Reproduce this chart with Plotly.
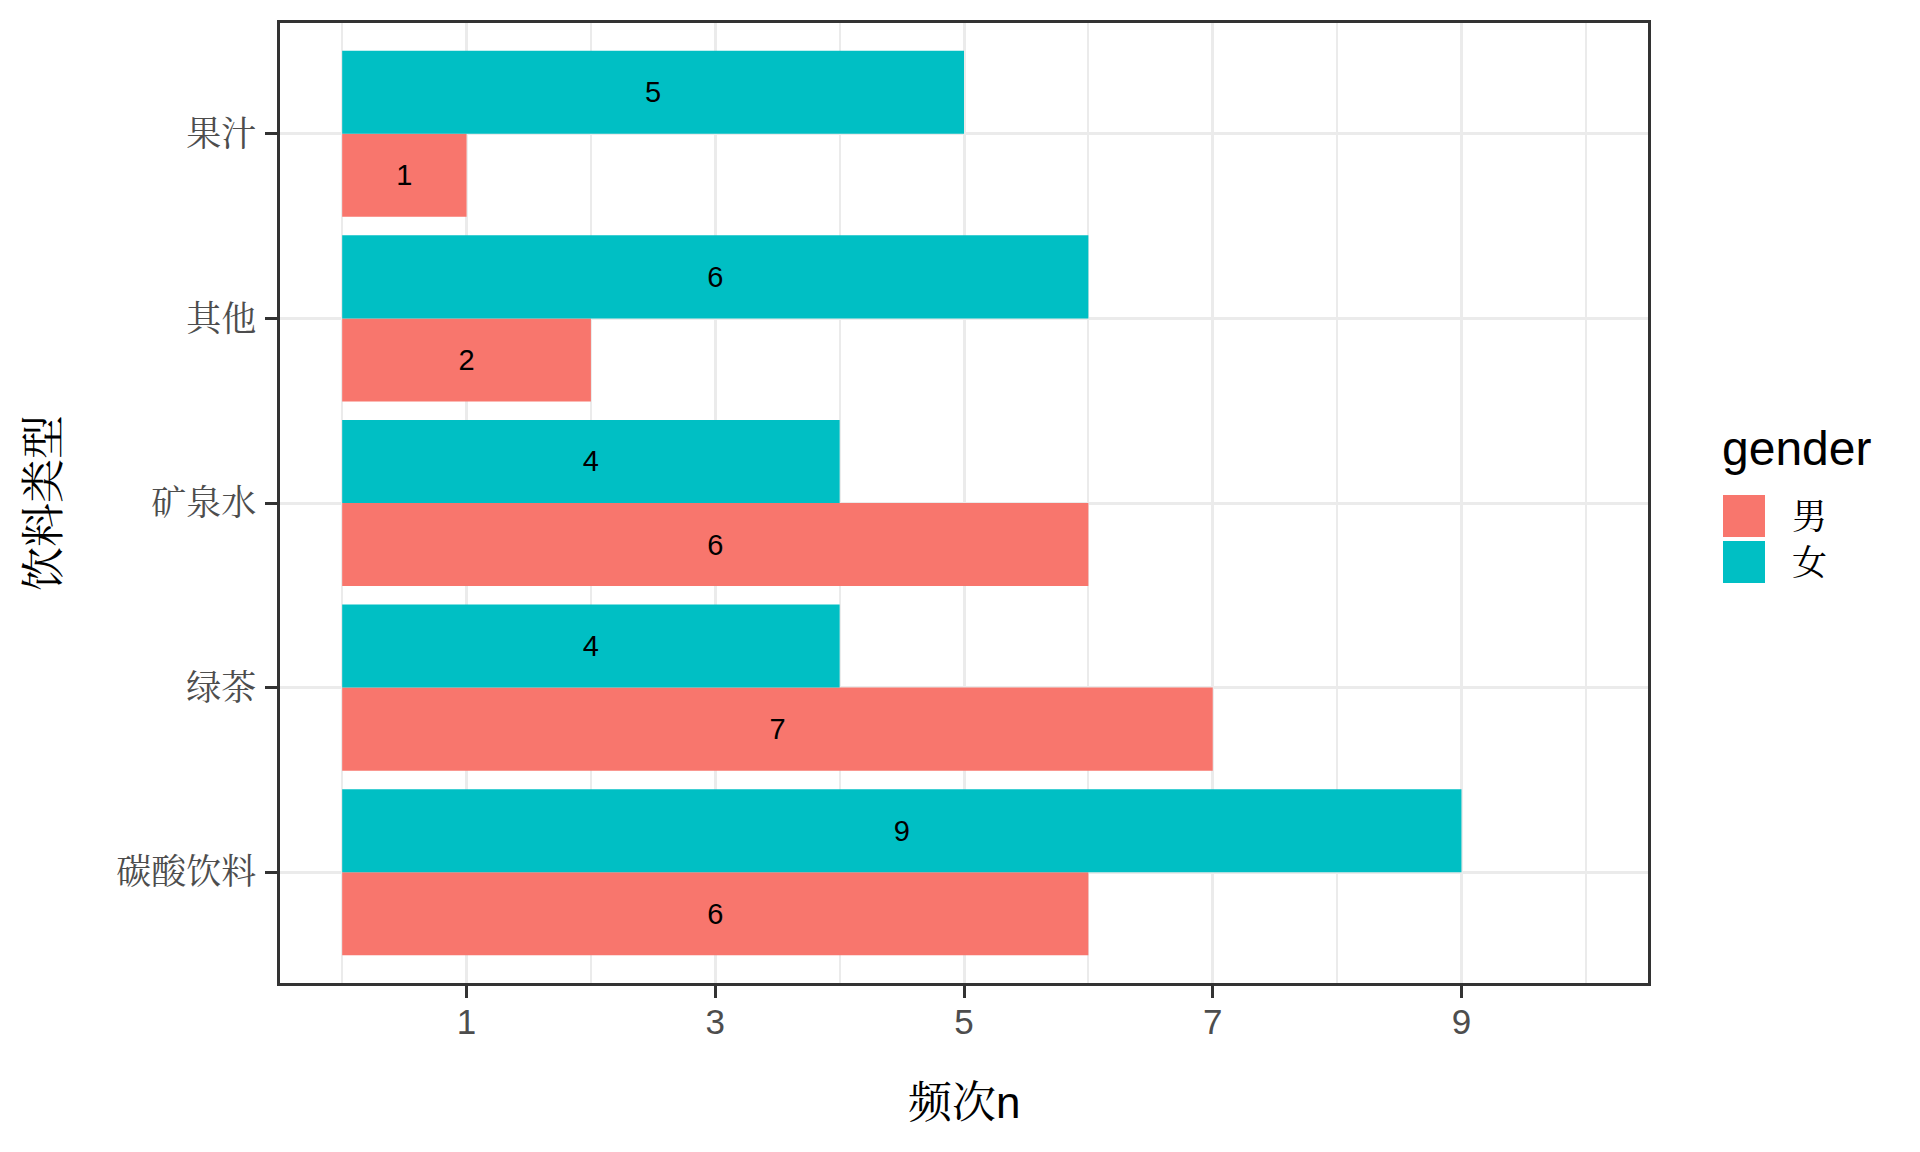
import plotly.graph_objects as go

categories = ["碳酸饮料", "绿茶", "矿泉水", "其他", "果汁"]
male_counts = [6, 7, 6, 2, 1]
female_counts = [9, 4, 4, 6, 5]
genders = ["男", "女"]
colors = ["#F8766D", "#00BFC4"]
x_ticks = [1, 3, 5, 7, 9]

FONT = "Liberation Sans, Noto Serif CJK SC, Noto Sans CJK SC, sans-serif"

W, H = 1920, 1152
OFF = 8  # page body margin
L, R, T, B = 280 - OFF, 1648 - OFF, 23 - OFF, 983 - OFF  # panel pixel box (figure coords)

fig = go.Figure()
for name, vals, col in zip(genders, [male_counts, female_counts], colors):
    fig.add_trace(go.Bar(
        y=categories, x=vals, orientation="h", name=name,
        marker=dict(color=col, line=dict(width=0)),
        text=[str(v) for v in vals], textposition="inside",
        insidetextanchor="middle",
        insidetextfont=dict(color="black", size=29, family=FONT),
        constraintext="none", showlegend=False,
    ))

def px_x(p):
    return (p - OFF - L) / (R - L)

def px_y(p):
    return (B - (p - OFF)) / (B - T)

shapes = []
annotations = []
# legend
annotations.append(dict(text="gender", x=px_x(1720), y=px_y(448), xref="paper", yref="paper",
                        xanchor="left", yanchor="middle", showarrow=False,
                        font=dict(size=48, color="black", family=FONT)))
for i, (name, col) in enumerate(zip(genders, colors)):
    y0 = 495 + i * 46
    y1 = y0 + 42
    shapes.append(dict(type="rect", xref="paper", yref="paper",
                       x0=px_x(1723), x1=px_x(1765), y0=px_y(y1), y1=px_y(y0),
                       fillcolor=col, line=dict(width=0), layer="above"))
    annotations.append(dict(text=name, x=px_x(1790), y=px_y((y0 + y1) / 2), xref="paper", yref="paper",
                            xanchor="left", yanchor="middle", showarrow=False,
                            font=dict(size=35, color="black", family=FONT)))
# axis titles
annotations.append(dict(text="频次n", x=0.5, y=px_y(1102), xref="paper", yref="paper",
                        xanchor="center", yanchor="middle", showarrow=False,
                        font=dict(size=44, color="black", family=FONT)))
annotations.append(dict(text="饮料类型", x=px_x(43), y=0.5, xref="paper", yref="paper",
                        xanchor="center", yanchor="middle", textangle=-90, showarrow=False,
                        font=dict(size=44, color="black", family=FONT)))

fig.update_layout(
    width=W, height=H,
    margin=dict(l=L, r=W - R, t=T, b=H - B, pad=0),
    paper_bgcolor="white", plot_bgcolor="white",
    barmode="group", bargap=0.1, bargroupgap=0,
    font=dict(family=FONT),
    shapes=shapes, annotations=annotations,
    showlegend=False,
)
fig.update_xaxes(
    range=[-0.5, 10.5], tickvals=x_ticks, ticktext=[str(v) for v in x_ticks],
    showgrid=True, gridcolor="#EBEBEB", gridwidth=2.7, zeroline=False,
    ticks="outside", ticklen=12, tickwidth=3, tickcolor="#333333",
    tickfont=dict(size=35, color="#4D4D4D", family=FONT),
    ticklabelstandoff=-6,
    showline=True, linecolor="#333333", linewidth=2.5, mirror=True,
    minor=dict(tickvals=[0, 2, 4, 6, 8, 10], showgrid=True, gridcolor="#EBEBEB", gridwidth=1.5, ticks=""),
)
fig.update_yaxes(
    categoryorder="array", categoryarray=categories, range=[-0.6, 4.6],
    showgrid=True, gridcolor="#EBEBEB", gridwidth=2.7, zeroline=False,
    ticks="outside", ticklen=12, tickwidth=3, tickcolor="#333333",
    tickfont=dict(size=35, color="#4D4D4D", family=FONT),
    ticklabelstandoff=2,
    showline=True, linecolor="#333333", linewidth=2.5, mirror=True,
)

fig.write_html("out.html")
